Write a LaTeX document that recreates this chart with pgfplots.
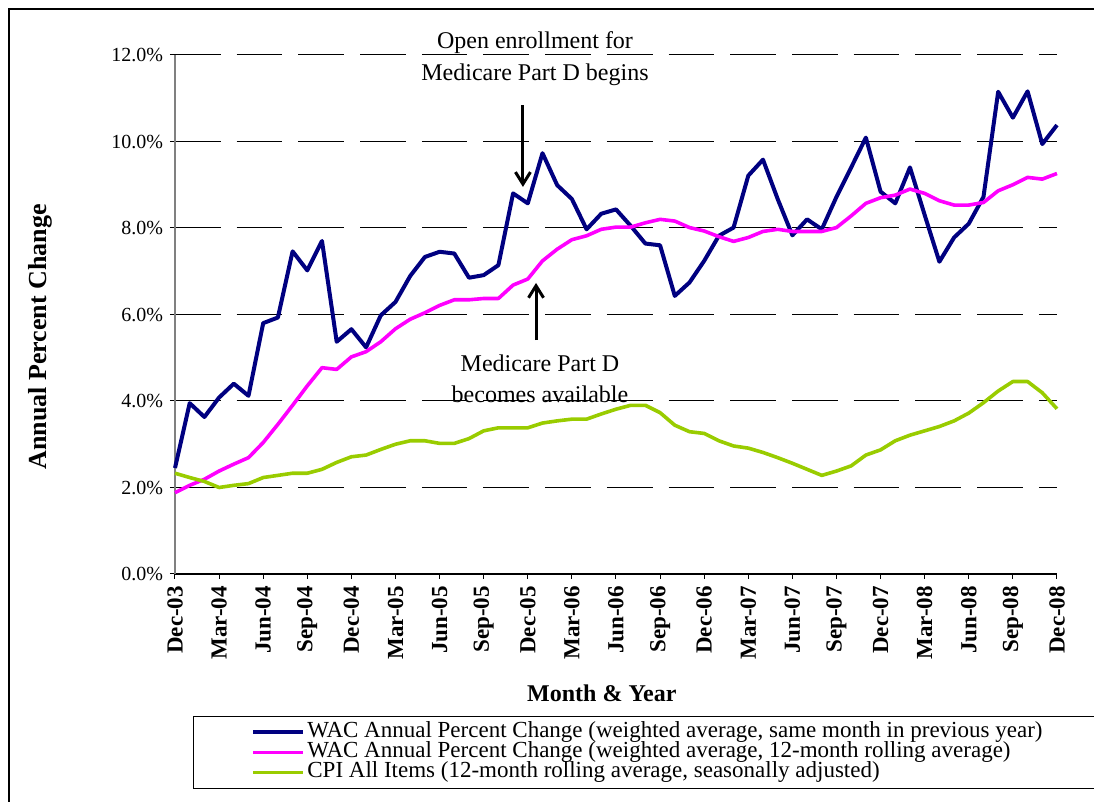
\documentclass[border=0pt]{standalone}
\usepackage{fontspec}
\setmainfont{Liberation Serif}
\usepackage{pgfplots}
\pgfplotsset{compat=1.18}
\usetikzlibrary{arrows.meta}

\definecolor{wacnavy}{RGB}{0,0,128}
\definecolor{wacpink}{RGB}{255,0,255}
\definecolor{cpilime}{RGB}{153,204,0}

\begin{document}
\begin{tikzpicture}
% page = chart area, 1px = 0.5pt; the frame runs off the right and bottom edges
\useasboundingbox (-87.5pt,-114pt) rectangle (459.5pt,287pt);
\draw[line width=0.6pt] (-83pt,-130pt) -- (-83pt,282.5pt) -- (480pt,282.5pt);

\begin{axis}[
 at={(0pt,0pt)}, anchor=south west,
 scale only axis,
 width=441pt, height=259.5pt,
 xmin=0, xmax=60,
 ymin=0, ymax=12,
 clip=false,
 axis lines*=left,
 axis line style={-},
 x axis line style={black, line width=0.6pt},
 y axis line style={gray, line width=0.8pt},
 tick align=outside,
 major tick length=2.5pt,
 tick style={black, line width=0.5pt},
 xtick={0,3,...,60},
 xticklabels={Dec-03,Mar-04,Jun-04,Sep-04,Dec-04,Mar-05,Jun-05,Sep-05,Dec-05,Mar-06,Jun-06,Sep-06,Dec-06,Mar-07,Jun-07,Sep-07,Dec-07,Mar-08,Jun-08,Sep-08,Dec-08},
 xticklabel style={rotate=90, anchor=east, font=\bfseries\fontsize{11.5}{13}\selectfont},
 ytick={0,2,...,12},
 yticklabel={\pgfmathprintnumber[fixed,fixed zerofill,precision=1]{\tick}\%},
 yticklabel style={font=\fontsize{10}{12}\selectfont},
 /pgf/number format/assume math mode=true,
 ymajorgrids=true,
 grid style={black, line width=0.5pt, dash pattern=on 22.85pt off 8pt},
 xlabel={Month \& Year},
 xlabel style={at={(axis description cs:0.484,-0.229)}, anchor=center, font=\bfseries\fontsize{12}{14}\selectfont},
 ylabel={Annual Percent Change},
 ylabel style={at={(axis description cs:-0.153,0.457)}, anchor=center, font=\bfseries\fontsize{13}{15}\selectfont},
 legend cell align=left,
 legend image code/.code={\draw[#1] (0pt,0pt) -- (25pt,0pt);},
 legend style={
 at={(axis description cs:0.0204,-0.2736)},
 anchor=north west,
 draw=black,
 fill=white,
 inner xsep=29pt,
 inner ysep=3pt,
 font=\fontsize{11.5}{10}\selectfont,
 nodes={inner xsep=1pt, inner ysep=0pt, text height=7.5pt, text depth=2.5pt},
 row sep=0pt
 }
]

% WAC, same month in previous year
\addplot[wacnavy, line width=2pt, line join=round] coordinates {
 (0,2.45)(1,3.95)(2,3.63)(3,4.08)(4,4.40)(5,4.12)(6,5.80)(7,5.93)(8,7.46)(9,7.02)
 (10,7.70)(11,5.37)(12,5.66)(13,5.24)(14,5.98)(15,6.29)(16,6.89)(17,7.33)(18,7.45)(19,7.41)
 (20,6.85)(21,6.91)(22,7.14)(23,8.80)(24,8.57)(25,9.73)(26,8.99)(27,8.67)(28,7.97)(29,8.33)
 (30,8.43)(31,8.05)(32,7.64)(33,7.60)(34,6.43)(35,6.74)(36,7.24)(37,7.82)(38,8.01)(39,9.21)
 (40,9.58)(41,8.67)(42,7.83)(43,8.20)(44,7.97)(45,8.72)(46,9.40)(47,10.09)(48,8.84)(49,8.57)
 (50,9.40)(51,8.30)(52,7.22)(53,7.78)(54,8.10)(55,8.72)(56,11.15)(57,10.55)(58,11.16)(59,9.94)
 (60,10.38)
};
\addlegendentry{WAC Annual Percent Change (weighted average, same month in previous year)}

% WAC, 12-month rolling average
\addplot[wacpink, line width=1.8pt, line join=round] coordinates {
 (0,1.88)(1,2.05)(2,2.19)(3,2.38)(4,2.54)(5,2.69)(6,3.04)(7,3.46)(8,3.90)(9,4.35)
 (10,4.77)(11,4.73)(12,5.02)(13,5.14)(14,5.37)(15,5.67)(16,5.89)(17,6.04)(18,6.21)(19,6.34)
 (20,6.34)(21,6.37)(22,6.37)(23,6.68)(24,6.82)(25,7.24)(26,7.51)(27,7.73)(28,7.82)(29,7.97)
 (30,8.02)(31,8.02)(32,8.12)(33,8.20)(34,8.16)(35,8.01)(36,7.93)(37,7.80)(38,7.69)(39,7.78)
 (40,7.92)(41,7.97)(42,7.92)(43,7.92)(44,7.92)(45,8.01)(46,8.28)(47,8.57)(48,8.70)(49,8.76)
 (50,8.90)(51,8.80)(52,8.63)(53,8.53)(54,8.53)(55,8.59)(56,8.86)(57,9.00)(58,9.17)(59,9.13)
 (60,9.26)
};
\addlegendentry{WAC Annual Percent Change (weighted average, 12-month rolling average)}

% CPI
\addplot[cpilime, line width=1.8pt, line join=round] coordinates {
 (0,2.33)(1,2.23)(2,2.14)(3,2.00)(4,2.05)(5,2.09)(6,2.23)(7,2.28)(8,2.33)(9,2.33)
 (10,2.42)(11,2.58)(12,2.71)(13,2.75)(14,2.88)(15,3.00)(16,3.08)(17,3.08)(18,3.02)(19,3.02)
 (20,3.13)(21,3.31)(22,3.38)(23,3.38)(24,3.38)(25,3.49)(26,3.54)(27,3.58)(28,3.58)(29,3.70)
 (30,3.81)(31,3.90)(32,3.90)(33,3.73)(34,3.44)(35,3.29)(36,3.25)(37,3.08)(38,2.96)(39,2.91)
 (40,2.81)(41,2.69)(42,2.56)(43,2.42)(44,2.28)(45,2.38)(46,2.50)(47,2.75)(48,2.87)(49,3.08)
 (50,3.21)(51,3.31)(52,3.41)(53,3.54)(54,3.72)(55,3.96)(56,4.23)(57,4.45)(58,4.45)(59,4.19)
 (60,3.82)
};
\addlegendentry{CPI All Items (12-month rolling average, seasonally adjusted)}

% annotations
\node[align=center, font=\fontsize{12}{16}\selectfont] at (axis cs:24.49,11.91)
 {Open enrollment for\\Medicare Part D begins};
\draw[line width=1.5pt, -{Straight Barb[length=6pt,width=7.5pt]}]
 (axis cs:23.67,10.84) -- (axis cs:23.67,8.95);
\draw[line width=1.5pt, -{Straight Barb[length=6pt,width=7.5pt]}]
 (axis cs:24.56,5.41) -- (axis cs:24.56,6.73);
\node[align=center, font=\fontsize{12}{15.5}\selectfont] at (axis cs:24.83,4.52)
 {Medicare Part D\\becomes available};

\end{axis}
\end{tikzpicture}
\end{document}
